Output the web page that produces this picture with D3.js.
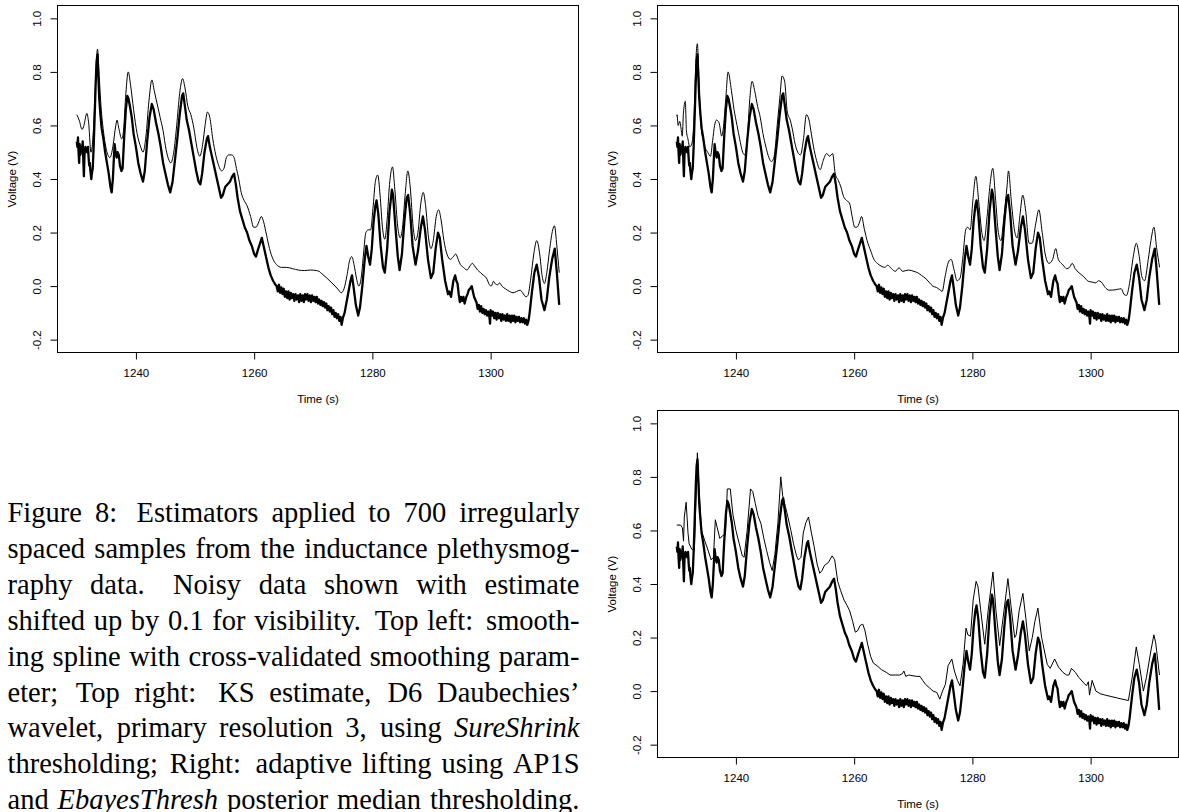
<!DOCTYPE html>
<html><head><meta charset="utf-8">
<script src="https://cdn.jsdelivr.net/npm/d3@7"></script>
<style>body{margin:0;background:#fff;} svg{display:block;}</style>
</head><body>
<svg id="fig" width="1179" height="812"></svg>
<script>
const xTicks = [1240, 1260, 1280, 1300];
const yTicks = [-0.2, 0.0, 0.2, 0.4, 0.6, 0.8, 1.0];
const yLimits = [-0.2, 1.0];
const xTitle = "Time (s)";
const yTitle = "Voltage (V)";

// Noisy observations (time s, voltage V)
const noisyData = [
[1230.0,0.54],[1230.1,0.52],[1230.2,0.555],[1230.3,0.50],[1230.4,0.46],[1230.5,0.53],[1230.6,0.49],[1230.75,0.52],[1230.85,0.50],[1231.0,0.54],
[1231.1,0.47],[1231.2,0.41],[1231.3,0.49],[1231.45,0.52],[1231.6,0.51],[1231.75,0.50],[1231.9,0.52],[1232.0,0.48],[1232.1,0.45],[1232.2,0.46],
[1232.3,0.43],[1232.45,0.40],[1232.55,0.42],[1232.7,0.44],[1232.85,0.52],[1233.0,0.62],[1233.2,0.76],[1233.35,0.84],[1233.5,0.865],[1233.65,0.78],
[1233.8,0.70],[1234.0,0.64],[1234.2,0.59],[1234.5,0.55],[1234.8,0.50],[1235.1,0.46],[1235.4,0.42],[1235.7,0.37],[1235.9,0.35],[1236.1,0.40],
[1236.3,0.49],[1236.4,0.53],[1236.55,0.50],[1236.75,0.48],[1236.9,0.50],[1237.1,0.49],[1237.3,0.45],[1237.55,0.43],[1237.75,0.44],[1238.0,0.55],
[1238.3,0.66],[1238.55,0.71],[1238.75,0.70],[1239.0,0.67],[1239.3,0.63],[1239.6,0.57],[1240.0,0.52],[1240.4,0.46],[1240.8,0.42],[1241.2,0.39],
[1241.5,0.43],[1241.9,0.54],[1242.3,0.63],[1242.7,0.68],[1243.0,0.66],[1243.4,0.61],[1243.8,0.57],[1244.2,0.52],[1244.6,0.46],[1245.0,0.42],
[1245.4,0.38],[1245.8,0.35],[1246.2,0.39],[1246.6,0.47],[1247.0,0.55],[1247.4,0.64],[1247.8,0.71],[1248.0,0.72],[1248.3,0.67],[1248.6,0.62],
[1249.0,0.58],[1249.4,0.53],[1249.8,0.48],[1250.2,0.43],[1250.6,0.39],[1250.9,0.38],[1251.2,0.42],[1251.6,0.50],[1252.0,0.55],[1252.2,0.56],
[1252.5,0.52],[1252.9,0.48],[1253.3,0.44],[1253.7,0.40],[1254.1,0.36],[1254.4,0.33],[1254.7,0.34],[1255.1,0.37],[1255.5,0.38],[1255.9,0.39],
[1256.3,0.41],[1256.6,0.42],[1256.9,0.38],[1257.2,0.33],[1257.6,0.28],[1258.0,0.25],[1258.4,0.22],[1258.8,0.20],[1259.2,0.17],[1259.6,0.15],
[1260.0,0.12],[1260.3,0.11],[1260.7,0.14],[1261.0,0.16],[1261.3,0.18],[1261.6,0.15],[1262.0,0.11],[1262.4,0.07],[1262.8,0.04],[1263.2,0.02],
[1263.6,0.005],[1263.8,0.00],[1264.0,-0.02],[1264.2,0.005],[1264.4,-0.025],[1264.6,-0.005],[1264.8,-0.03],[1265.0,-0.01],[1265.2,-0.04],[1265.4,-0.02],
[1265.6,-0.045],[1265.8,-0.02],[1266.0,-0.05],[1266.2,-0.025],[1266.4,-0.045],[1266.6,-0.03],[1266.8,-0.055],[1267.0,-0.03],[1267.2,-0.05],[1267.4,-0.035],
[1267.6,-0.06],[1267.8,-0.03],[1268.0,-0.055],[1268.2,-0.035],[1268.4,-0.06],[1268.6,-0.03],[1268.8,-0.05],[1269.0,-0.03],[1269.2,-0.055],[1269.4,-0.035],
[1269.6,-0.06],[1269.8,-0.035],[1270.0,-0.055],[1270.2,-0.04],[1270.4,-0.06],[1270.6,-0.04],[1270.8,-0.065],[1271.0,-0.05],[1271.2,-0.07],[1271.4,-0.055],
[1271.6,-0.075],[1271.8,-0.06],[1272.0,-0.08],[1272.2,-0.065],[1272.4,-0.09],[1272.6,-0.075],[1272.8,-0.095],[1273.0,-0.08],[1273.2,-0.105],[1273.4,-0.09],
[1273.6,-0.115],[1273.8,-0.10],[1274.0,-0.12],[1274.2,-0.105],[1274.4,-0.13],[1274.6,-0.115],[1274.8,-0.145],[1275.0,-0.12],[1275.3,-0.10],[1275.8,-0.04],
[1276.3,0.02],[1276.55,0.04],[1276.8,0.00],[1277.2,-0.07],[1277.6,-0.11],[1277.9,-0.08],[1278.3,0.00],[1278.7,0.10],[1279.0,0.15],[1279.3,0.11],
[1279.6,0.08],[1279.9,0.14],[1280.2,0.24],[1280.5,0.30],[1280.7,0.32],[1281.0,0.27],[1281.4,0.15],[1281.8,0.07],[1282.1,0.05],[1282.5,0.14],
[1282.9,0.28],[1283.3,0.36],[1283.5,0.34],[1283.9,0.22],[1284.3,0.11],[1284.6,0.06],[1285.0,0.12],[1285.4,0.24],[1285.8,0.33],[1286.05,0.34],
[1286.4,0.27],[1286.8,0.15],[1287.3,0.08],[1287.7,0.13],[1288.2,0.22],[1288.55,0.26],[1288.9,0.21],[1289.4,0.10],[1289.9,0.03],[1290.3,0.05],
[1290.7,0.14],[1291.1,0.20],[1291.4,0.18],[1291.8,0.10],[1292.3,0.02],[1292.6,-0.01],[1292.8,-0.03],[1293.0,-0.02],[1293.3,-0.04],[1293.5,-0.01],
[1293.7,0.02],[1294.0,0.04],[1294.2,0.02],[1294.4,0.01],[1294.6,-0.03],[1294.8,-0.06],[1295.0,-0.04],[1295.2,-0.055],[1295.4,-0.04],[1295.6,-0.065],
[1295.9,-0.04],[1296.1,-0.03],[1296.3,-0.015],[1296.5,-0.01],[1296.8,0.00],[1297.0,-0.02],[1297.2,-0.04],[1297.4,-0.05],[1297.6,-0.06],[1297.8,-0.085],
[1298.0,-0.07],[1298.2,-0.095],[1298.4,-0.075],[1298.6,-0.10],[1298.8,-0.085],[1299.0,-0.105],[1299.2,-0.09],[1299.4,-0.11],[1299.6,-0.095],[1299.8,-0.115],
[1299.9,-0.14],[1300.0,-0.09],[1300.2,-0.11],[1300.4,-0.095],[1300.6,-0.12],[1300.8,-0.10],[1301.0,-0.125],[1301.2,-0.10],[1301.4,-0.12],[1301.6,-0.105],
[1301.8,-0.13],[1302.0,-0.105],[1302.2,-0.125],[1302.4,-0.11],[1302.6,-0.13],[1302.8,-0.105],[1303.0,-0.13],[1303.2,-0.11],[1303.4,-0.135],[1303.6,-0.11],
[1303.8,-0.13],[1304.0,-0.11],[1304.2,-0.135],[1304.4,-0.115],[1304.6,-0.13],[1304.8,-0.115],[1305.0,-0.135],[1305.2,-0.12],[1305.4,-0.135],[1305.6,-0.12],
[1305.8,-0.14],[1306.0,-0.125],[1306.2,-0.145],[1306.4,-0.13],[1306.6,-0.10],[1307.0,-0.02],[1307.4,0.05],[1307.8,0.08],[1308.2,0.03],[1308.6,-0.05],
[1309.1,-0.09],[1309.5,-0.05],[1309.9,0.03],[1310.4,0.10],[1310.85,0.14],[1311.2,0.05],[1311.6,-0.07]
];

// Top left: smoothing spline estimate (+0.1)
const splineEst = [
[1230.0,0.64],[1230.4,0.62],[1230.9,0.585],[1231.2,0.60],[1231.7,0.645],[1232.0,0.61],[1232.4,0.50],[1232.6,0.52],[1232.9,0.62],[1233.2,0.78],
[1233.5,0.885],[1233.8,0.78],[1234.1,0.67],[1234.5,0.58],[1235.0,0.51],[1235.6,0.48],[1236.1,0.52],[1236.6,0.60],[1236.8,0.62],[1237.1,0.59],
[1237.6,0.55],[1237.9,0.58],[1238.3,0.72],[1238.7,0.80],[1239.1,0.75],[1239.6,0.66],[1240.2,0.57],[1240.8,0.52],[1241.2,0.50],[1241.7,0.56],
[1242.2,0.69],[1242.7,0.77],[1243.1,0.73],[1243.6,0.68],[1244.1,0.63],[1244.6,0.58],[1245.1,0.51],[1245.6,0.47],[1245.9,0.46],[1246.4,0.50],
[1246.9,0.60],[1247.4,0.72],[1247.9,0.775],[1248.3,0.74],[1248.8,0.67],[1249.3,0.64],[1249.8,0.59],[1250.3,0.52],[1250.8,0.485],[1251.3,0.53],
[1251.7,0.60],[1252.1,0.65],[1252.5,0.63],[1253.0,0.55],[1253.5,0.49],[1254.0,0.45],[1254.5,0.43],[1254.9,0.44],[1255.3,0.48],[1255.7,0.49],
[1256.2,0.49],[1256.6,0.48],[1257.0,0.44],[1257.4,0.40],[1257.8,0.35],[1258.3,0.32],[1258.8,0.30],[1259.4,0.26],[1259.9,0.22],[1260.3,0.22],
[1260.8,0.24],[1261.2,0.26],[1261.6,0.24],[1262.1,0.19],[1262.6,0.14],[1263.2,0.10],[1263.8,0.08],[1264.6,0.07],[1265.5,0.07],[1266.5,0.065],
[1267.5,0.06],[1268.5,0.058],[1269.5,0.06],[1270.5,0.058],[1271.0,0.055],[1271.5,0.045],[1272.3,0.03],[1273.0,0.015],[1273.7,0.0],[1274.3,-0.015],
[1274.7,-0.025],[1275.2,-0.01],[1275.7,0.04],[1276.2,0.10],[1276.5,0.11],[1276.9,0.08],[1277.3,0.03],[1277.7,0.00],[1278.1,0.03],[1278.5,0.12],
[1278.9,0.20],[1279.3,0.21],[1279.7,0.21],[1280.1,0.29],[1280.5,0.39],[1280.9,0.415],[1281.3,0.34],[1281.7,0.22],[1282.1,0.175],[1282.5,0.25],
[1282.9,0.38],[1283.4,0.445],[1283.8,0.36],[1284.3,0.22],[1284.7,0.18],[1285.1,0.22],[1285.5,0.33],[1286.0,0.43],[1286.4,0.37],[1286.9,0.22],
[1287.3,0.17],[1287.7,0.20],[1288.2,0.31],[1288.6,0.35],[1289.0,0.30],[1289.5,0.18],[1289.9,0.14],[1290.3,0.17],[1290.8,0.26],[1291.2,0.285],
[1291.6,0.25],[1292.1,0.17],[1292.6,0.12],[1293.2,0.10],[1293.7,0.11],[1294.1,0.12],[1294.5,0.10],[1294.9,0.08],[1295.4,0.07],[1296.0,0.06],
[1296.5,0.075],[1296.9,0.085],[1297.3,0.075],[1297.8,0.06],[1298.3,0.05],[1298.8,0.04],[1299.3,0.03],[1299.8,0.005],[1300.1,0.0],[1300.5,0.018],
[1300.8,0.008],[1301.2,0.005],[1301.5,0.012],[1301.9,0.0],[1302.5,-0.01],[1303.2,-0.02],[1303.8,-0.025],[1304.4,-0.02],[1305.0,-0.015],[1305.4,-0.025],
[1306.0,-0.04],[1306.3,-0.035],[1306.8,0.03],[1307.3,0.12],[1307.8,0.17],[1308.3,0.12],[1308.7,0.04],[1309.1,0.01],[1309.5,0.05],[1310.0,0.14],
[1310.5,0.21],[1310.8,0.225],[1311.2,0.15],[1311.6,0.05]
];

// Top right: KS wavelet estimate (+0.1)
const waveletEst = [
[1230.0,0.634],[1230.04,0.64],[1230.23,0.60],[1230.49,0.615],[1230.68,0.595],[1230.93,0.56],[1231.12,0.645],[1231.44,0.69],[1231.63,0.58],[1231.88,0.55],
[1232.2,0.52],[1232.52,0.53],[1232.9,0.62],[1233.28,0.865],[1233.47,0.905],[1233.79,0.745],[1234.1,0.60],[1234.61,0.53],[1235.24,0.50],[1235.69,0.485],
[1236.07,0.545],[1236.39,0.60],[1236.7,0.62],[1237.15,0.61],[1237.59,0.56],[1237.84,0.585],[1238.29,0.70],[1238.67,0.80],[1239.24,0.73],[1239.68,0.66],
[1240.19,0.60],[1240.63,0.55],[1241.14,0.50],[1241.46,0.49],[1241.9,0.545],[1242.35,0.70],[1242.73,0.765],[1243.17,0.73],[1243.68,0.67],[1244.12,0.63],
[1244.57,0.57],[1245.07,0.52],[1245.58,0.48],[1246.02,0.465],[1246.47,0.485],[1246.98,0.60],[1247.48,0.715],[1247.8,0.785],[1248.24,0.765],[1248.69,0.65],
[1249.19,0.62],[1249.51,0.59],[1250.02,0.53],[1250.46,0.50],[1250.91,0.49],[1251.41,0.545],[1251.92,0.64],[1252.37,0.62],[1252.68,0.58],[1253.13,0.52],
[1253.63,0.47],[1254.27,0.435],[1254.71,0.465],[1255.35,0.495],[1255.85,0.485],[1256.36,0.495],[1256.8,0.42],[1257.31,0.395],[1257.76,0.37],[1258.2,0.335],
[1258.71,0.32],[1259.21,0.31],[1259.66,0.26],[1260.1,0.22],[1260.48,0.22],[1260.93,0.24],[1261.24,0.26],[1261.75,0.21],[1262.19,0.17],[1262.83,0.13],
[1263.34,0.10],[1263.91,0.085],[1264.54,0.075],[1265.17,0.07],[1265.68,0.078],[1266.32,0.065],[1266.95,0.055],[1267.58,0.068],[1268.22,0.055],[1269.17,0.06],
[1270.12,0.055],[1270.75,0.05],[1271.39,0.04],[1272.02,0.03],[1272.66,0.015],[1273.29,0.0],[1273.92,-0.005],[1274.56,-0.015],[1274.88,-0.02],[1275.38,0.035],
[1275.95,0.09],[1276.4,0.10],[1276.91,0.06],[1277.41,0.02],[1277.92,0.03],[1278.36,0.10],[1278.87,0.21],[1279.19,0.22],[1279.63,0.21],[1280.08,0.32],
[1280.58,0.41],[1281.09,0.31],[1281.6,0.20],[1281.98,0.17],[1282.49,0.26],[1282.99,0.38],[1283.44,0.44],[1283.94,0.32],[1284.39,0.20],[1284.83,0.17],
[1285.34,0.26],[1285.85,0.37],[1286.1,0.43],[1286.61,0.31],[1287.11,0.21],[1287.56,0.18],[1288.07,0.27],[1288.51,0.34],[1289.02,0.28],[1289.59,0.16],
[1290.1,0.16],[1290.73,0.235],[1291.24,0.285],[1291.81,0.20],[1292.31,0.12],[1292.95,0.085],[1293.58,0.10],[1294.09,0.14],[1294.53,0.10],[1295.04,0.085],
[1295.48,0.075],[1295.93,0.065],[1296.44,0.07],[1296.88,0.085],[1297.39,0.065],[1298.02,0.05],[1298.84,0.035],[1299.61,0.018],[1300.24,0.015],[1300.87,0.012],
[1301.32,0.02],[1301.82,0.015],[1302.46,-0.005],[1303.09,-0.015],[1303.73,-0.015],[1304.55,-0.012],[1305.18,-0.01],[1305.63,-0.03],[1306.07,-0.035],[1306.58,0.01],
[1307.21,0.11],[1307.72,0.16],[1308.23,0.11],[1308.67,0.035],[1309.12,0.02],[1309.75,0.10],[1310.2,0.17],[1310.71,0.22],[1311.15,0.145],[1311.66,0.07]
];

// Bottom right: adaptive lifting estimate (+0.1)
const liftingEst = [
[1230.0,0.62],[1230.63,0.62],[1230.95,0.61],[1231.14,0.56],[1231.27,0.65],[1231.58,0.705],[1231.9,0.59],[1232.09,0.55],[1232.53,0.53],[1232.97,0.525],
[1233.16,0.66],[1233.48,0.89],[1233.8,0.74],[1234.18,0.60],[1234.75,0.56],[1235.38,0.52],[1235.82,0.49],[1236.2,0.50],[1236.52,0.64],[1236.84,0.61],
[1237.28,0.57],[1237.72,0.58],[1238.23,0.585],[1238.54,0.755],[1239.05,0.755],[1239.49,0.66],[1240.0,0.60],[1240.57,0.55],[1241.08,0.505],[1241.39,0.50],
[1241.9,0.60],[1242.47,0.755],[1242.85,0.745],[1243.29,0.70],[1243.73,0.655],[1244.24,0.625],[1244.68,0.575],[1245.19,0.525],[1245.7,0.48],[1246.14,0.45],
[1246.58,0.51],[1247.09,0.625],[1247.59,0.80],[1247.91,0.73],[1248.35,0.69],[1248.8,0.65],[1249.3,0.60],[1249.75,0.55],[1250.25,0.505],[1250.57,0.49],
[1251.01,0.50],[1251.39,0.59],[1251.84,0.63],[1252.28,0.65],[1252.78,0.59],[1253.23,0.54],[1253.73,0.475],[1254.18,0.44],[1254.56,0.45],[1255.0,0.47],
[1255.63,0.48],[1256.27,0.505],[1256.71,0.49],[1257.22,0.41],[1257.72,0.375],[1258.29,0.34],[1258.8,0.32],[1259.24,0.30],[1259.75,0.26],[1260.19,0.22],
[1260.57,0.225],[1261.01,0.245],[1261.46,0.25],[1261.84,0.225],[1262.28,0.175],[1262.78,0.13],[1263.23,0.105],[1263.86,0.095],[1264.62,0.08],[1265.44,0.07],
[1266.08,0.06],[1267.03,0.06],[1267.66,0.06],[1268.16,0.065],[1268.42,0.075],[1268.73,0.055],[1269.24,0.06],[1270.51,0.055],[1271.14,0.055],[1271.58,0.04],
[1272.09,0.025],[1272.72,0.0125],[1273.35,0.0],[1273.99,-0.005],[1274.49,-0.03],[1274.94,0.0],[1275.44,0.025],[1275.89,0.095],[1276.52,0.12],[1276.96,0.075],
[1277.47,0.04],[1277.91,0.02],[1278.42,0.10],[1278.92,0.235],[1279.24,0.21],[1279.68,0.205],[1280.13,0.34],[1280.63,0.41],[1280.95,0.39],[1281.39,0.305],
[1282.09,0.175],[1282.66,0.30],[1283.48,0.445],[1283.99,0.30],[1284.62,0.17],[1285.06,0.25],[1285.57,0.34],[1286.01,0.42],[1286.52,0.32],[1287.15,0.20],
[1287.41,0.21],[1287.91,0.30],[1288.54,0.365],[1289.05,0.27],[1289.62,0.15],[1290.13,0.20],[1290.57,0.26],[1291.08,0.31],[1291.71,0.20],[1292.66,0.10],
[1293.16,0.085],[1293.92,0.12],[1294.56,0.09],[1295.32,0.07],[1295.95,0.06],[1296.33,0.06],[1296.77,0.085],[1297.41,0.07],[1298.04,0.05],[1298.86,0.03],
[1299.3,0.02],[1299.62,0.035],[1299.81,-0.015],[1300.25,0.04],[1300.89,0.0],[1301.65,-0.01],[1302.47,-0.015],[1303.42,-0.02],[1304.37,-0.025],[1305.32,-0.03],
[1306.39,-0.035],[1307.03,0.05],[1307.72,0.165],[1308.23,0.10],[1308.92,0.0],[1309.43,0.05],[1310.19,0.15],[1310.7,0.21],[1311.01,0.18],[1311.65,0.06]
];

const captionLines = [
  "Figure 8: Estimators applied to 700 irregularly",
  "spaced samples from the inductance plethysmog-",
  "raphy data. Noisy data shown with estimate",
  "shifted up by 0.1 for visibility. Top left: smooth-",
  "ing spline with cross-validated smoothing param-",
  "eter; Top right: KS estimate, D6 Daubechies\u2019",
  "wavelet, primary resolution 3, using *SureShrink*",
  "thresholding; Right: adaptive lifting using AP1S",
  "and *EbayesThresh* posterior median thresholding."
];

const svg = d3.select('#fig');
const SANS = '"Liberation Sans", Arial, Helvetica, sans-serif';
const SERIF = '"Liberation Serif", "Times New Roman", serif';
const FS = 11.5;

const tExt = d3.extent(noisyData, d => d[0]);
const tPad = 0.04 * (tExt[1] - tExt[0]);
const yPad = 0.04 * (yLimits[1] - yLimits[0]);

const W = 521, H = 347;
const panels = [
  {left: 57, top: 5, est: splineEst, curve: d3.curveMonotoneX},
  {left: 657, top: 5, est: waveletEst, curve: d3.curveMonotoneX},
  {left: 657, top: 410, est: liftingEst, curve: d3.curveLinear}
];

panels.forEach(p => {
  const g = svg.append('g').attr('transform', `translate(${p.left + 0.5},${p.top + 0.5})`);
  const x = d3.scaleLinear().domain([tExt[0] - tPad, tExt[1] + tPad]).range([0, W]);
  const y = d3.scaleLinear().domain([yLimits[0] - yPad, yLimits[1] + yPad]).range([H, 0]);

  const xa = g.append('g').attr('transform', `translate(0,${H})`)
    .call(d3.axisBottom(x).tickValues(xTicks).tickSize(7).tickPadding(9).tickFormat(d3.format('d')));
  xa.select('.domain').remove();
  xa.selectAll('text').attr('font-family', SANS).attr('font-size', FS).attr('fill', '#000');
  xa.selectAll('line').attr('stroke', '#000');

  const ya = g.append('g')
    .call(d3.axisLeft(y).tickValues(yTicks).tickSize(7).tickFormat(d => d.toFixed(1)));
  ya.select('.domain').remove();
  ya.selectAll('line').attr('stroke', '#000');
  ya.selectAll('text')
    .attr('x', 0).attr('dy', 0)
    .attr('text-anchor', 'middle')
    .attr('transform', 'translate(-17,0) rotate(-90)')
    .attr('font-family', SANS).attr('font-size', FS).attr('fill', '#000');

  g.append('rect').attr('x', 0).attr('y', 0).attr('width', W).attr('height', H)
    .attr('fill', 'none').attr('stroke', '#000').attr('stroke-width', 1);

  g.append('text').attr('x', W / 2).attr('y', H + 50)
    .attr('text-anchor', 'middle').attr('font-family', SANS).attr('font-size', FS)
    .text(xTitle);
  g.append('text').attr('transform', `translate(-42,${H / 2}) rotate(-90)`)
    .attr('text-anchor', 'middle').attr('font-family', SANS).attr('font-size', FS)
    .text(yTitle);

  const line = d3.line().x(d => x(d[0])).y(d => y(d[1]));
  g.append('path').datum(noisyData).attr('d', line)
    .attr('fill', 'none').attr('stroke', '#000').attr('stroke-width', 2.3)
    .attr('stroke-linejoin', 'round');
  g.append('path').datum(p.est).attr('d', line.curve(p.curve))
    .attr('fill', 'none').attr('stroke', '#000').attr('stroke-width', 1);
});

// Caption, justified word by word
const capLeft = 7.5, capRight = 579.5, capFS = 28.5, capTop = 522, capLead = 35.9;
captionLines.forEach((ln, i) => {
  const yb = capTop + i * capLead;
  const words = ln.split(' ').map(w => {
    const it = /^\*.*\*[.,;:]?$/.test(w);
    return {text: w.replace(/\*/g, ''), italic: it};
  });
  const nodes = words.map(w => {
    const t = svg.append('text').attr('y', yb)
      .attr('font-family', SERIF).attr('font-size', capFS)
      .attr('font-style', w.italic ? 'italic' : 'normal').attr('fill', '#000')
      .text(w.text);
    return {t, w: t.node().getComputedTextLength(), s: w.text};
  });
  const total = d3.sum(nodes, n => n.w);
  const weights = nodes.slice(0, -1).map(n => {
    const c = n.s.slice(-1);
    return c === '.' ? 1.6 : c === ':' ? 1.5 : c === ';' ? 1.2 : c === ',' ? 1.1 : 1;
  });
  const unit = (capRight - capLeft - total) / d3.sum(weights);
  let xPos = capLeft;
  nodes.forEach((n, k) => {
    n.t.attr('x', xPos);
    xPos += n.w + (k < weights.length ? unit * weights[k] : 0);
  });
});
</script>
</body></html>
